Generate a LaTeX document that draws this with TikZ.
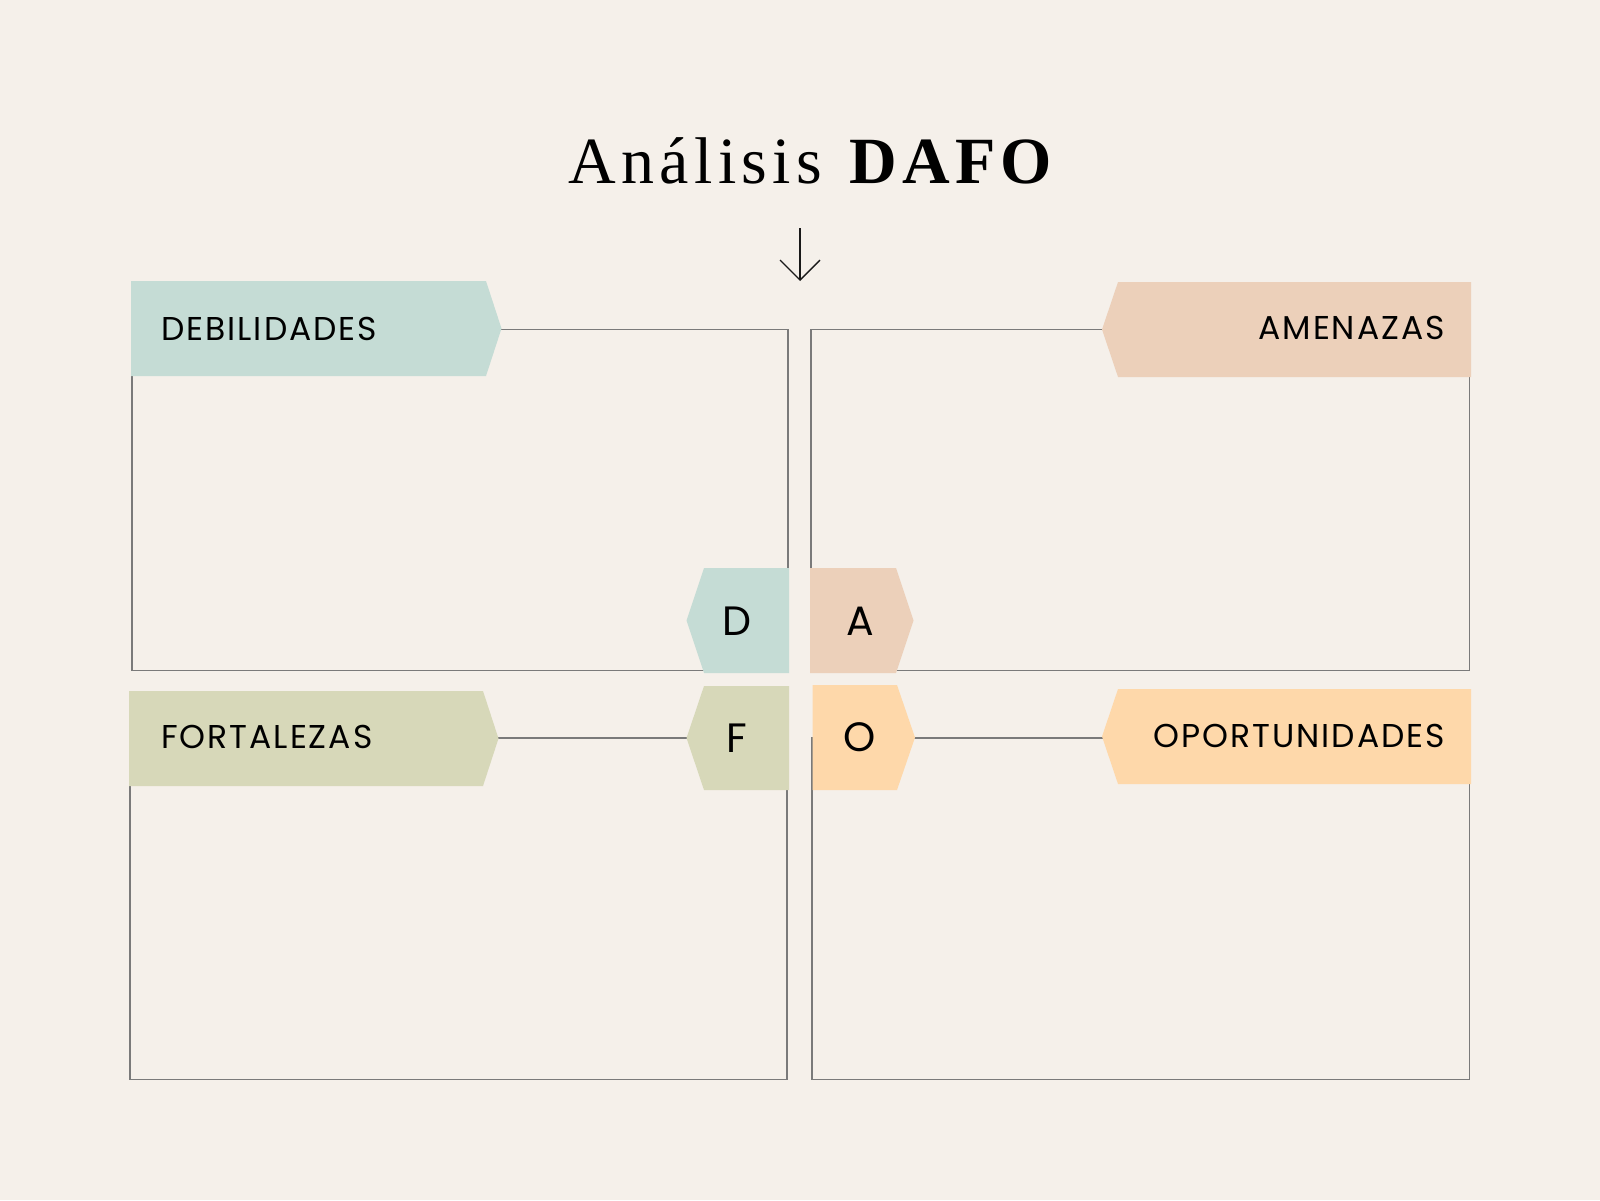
\documentclass[tikz,border=0pt]{standalone}
\usepackage{fontspec}
\usetikzlibrary{arrows.meta}
\newfontfamily\labelfont{Poppins}[LetterSpace=6]
\newfontfamily\letterfont{Poppins}
\newfontfamily\titlefont{Liberation Serif}[LetterSpace=8]
\definecolor{bg}{HTML}{F5F0EA}
\definecolor{debcol}{HTML}{C5DCD5}
\definecolor{amecol}{HTML}{ECD0BA}
\definecolor{fortcol}{HTML}{D7D8B9}
\definecolor{oporcol}{HTML}{FED8AA}
\definecolor{linecol}{HTML}{7A7A7A}
\newcommand{\tagright}[6]{\fill[#1] (#2,#4) -- (#3,#4) -- ({#3+#6},{(#4+#5)/2}) -- (#3,#5) -- (#2,#5) -- cycle;}
\newcommand{\tagleft}[6]{\fill[#1] (#3,#4) -- (#2,#4) -- ({#2-#6},{(#4+#5)/2}) -- (#2,#5) -- (#3,#5) -- cycle;}
\begin{document}
\begin{tikzpicture}[x=1pt,y=-1pt,
    box/.style={draw=linecol,line width=1.2pt},
    lbl/.style={font=\labelfont\fontsize{33}{40}\selectfont,inner sep=0pt},
    letter/.style={font=\letterfont\fontsize{41}{48}\selectfont,inner sep=0pt,anchor=base}]
                        \fill[bg] (0,0) rectangle (1600,1200);
                        \node[font=\titlefont\fontsize{66}{70}\selectfont,anchor=base,inner sep=0pt] (title) at (813,183) {Análisis \textbf{DAFO}};
                        \coordinate (arrtop) at (800,228);
                        \coordinate (arrtip) at (800,281);
                        \draw[black!90,line width=1.3pt,-{Straight Barb[length=20pt,width=40pt]}] (arrtop) -- (arrtip);

                        \draw[box] (132,329.5) rectangle (788,670.5);
                        \draw[box] (811,329.5) rectangle (1469.5,670.5);
                        \draw[box] (130,738) rectangle (787,1079.5);
                        \draw[box] (812,738) rectangle (1469.5,1079.5);

                        \tagright{debcol}{131}{486}{281}{376}{15.5}
                        \tagleft{amecol}{1118}{1471}{282}{377}{16}
                        \tagright{fortcol}{129}{483}{691}{786}{15.5}
                        \tagleft{oporcol}{1118}{1471}{689}{784}{16}
                        \tagleft{debcol}{704}{789}{568}{673}{17.5}
                        \tagright{amecol}{810}{896}{568}{673}{17.5}
                        \tagleft{fortcol}{704}{789}{686}{790}{17.5}
                        \tagright{oporcol}{812.5}{897}{685}{790}{18}

                        \node[lbl,anchor=base west] (deb) at (161,340) {DEBILIDADES};
                        \node[lbl,anchor=base east] (ame) at (1445,339.5) {AMENAZAS};
                        \node[lbl,anchor=base west] (fort) at (161,748.5) {FORTALEZAS};
                        \node[lbl,anchor=base east] (opor) at (1445,747) {OPORTUNIDADES};

                        \node[letter] (d) at (737,635) {D};
                        \node[letter] (a) at (860,635) {A};
                        \node[letter] (f) at (737,752.5) {F};
                        \node[letter] (o) at (860,751.5) {O};
                    \end{tikzpicture}
\end{document}
